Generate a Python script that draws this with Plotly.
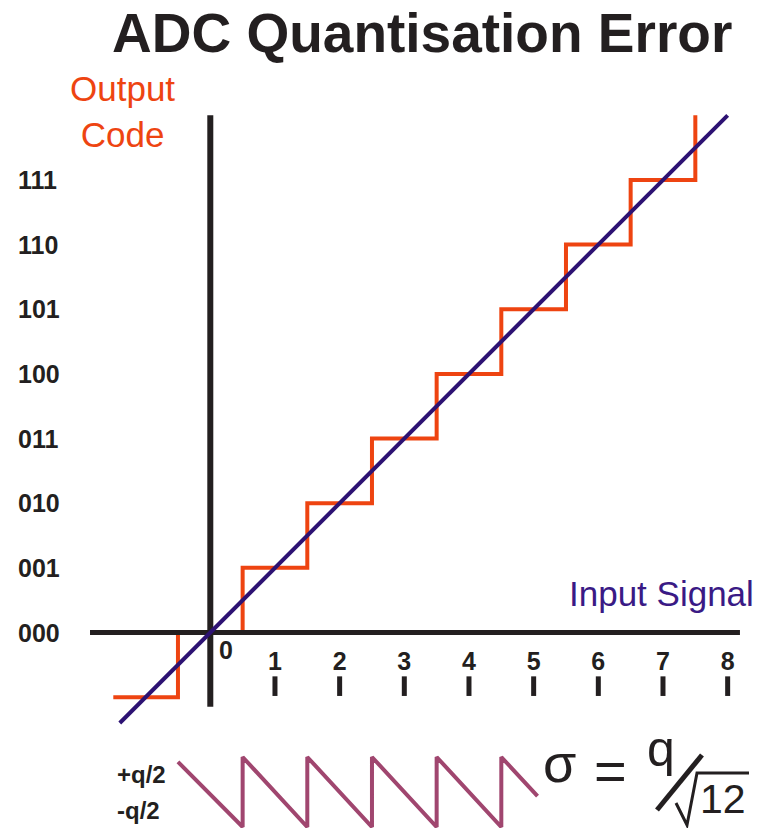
import plotly.graph_objects as go

# ---------------- data ----------------
code_labels = ["000", "001", "010", "011", "100", "101", "110", "111"]
code_values = [0, 1, 2, 3, 4, 5, 6, 7]
input_ticks = [1, 2, 3, 4, 5, 6, 7, 8]

# quantiser staircase (hv steps): input at which each code level starts, and code value
stair_x = [-1.5, -0.5, 0.5, 1.5, 2.5, 3.5, 4.5, 5.5, 6.5, 7.5, 7.5]
stair_y = [-1, 0, 1, 2, 3, 4, 5, 6, 7, 8, 8]

# ideal transfer line
ideal_x = [-1.4, 8.0]
ideal_y = [-1.4, 8.0]

# quantisation error sawtooth (in units of q)
err_x = [-0.5, 0.5, 0.5, 1.5, 1.5, 2.5, 2.5, 3.5, 3.5, 4.5, 4.5, 5.06]
err_y = [0.43, -0.5, 0.5, -0.5, 0.5, -0.5, 0.5, -0.5, 0.5, -0.5, 0.5, -0.06]

# drawn axis extents (data units)
input_axis_x = [-1.86, 8.19]
code_axis_y = [-1.15, 8.0]

W, H = 764, 828
ORANGE = "#EE4411"
PURPLE = "#2D1273"
MAUVE = "#A0466F"
BLACK = "#231F20"
FONT = "Liberation Sans, Arial, sans-serif"

def px(x):
    return x / W

def py(y):
    return 1 - y / H

fig = go.Figure()

# staircase
fig.add_trace(go.Scatter(x=stair_x, y=stair_y, mode="lines", line=dict(color=ORANGE, width=4, shape="hv"),
                         hoverinfo="skip", showlegend=False))
# axis lines (drawn over the staircase, under the ideal line)
fig.add_trace(go.Scatter(x=input_axis_x, y=[0, 0], mode="lines", line=dict(color=BLACK, width=5),
                         hoverinfo="skip", showlegend=False))
fig.add_trace(go.Scatter(x=[0, 0], y=code_axis_y, mode="lines", line=dict(color=BLACK, width=6),
                         hoverinfo="skip", showlegend=False))
# ideal line
fig.add_trace(go.Scatter(x=ideal_x, y=ideal_y, mode="lines", line=dict(color=PURPLE, width=4),
                         hoverinfo="skip", showlegend=False))
# tick marks below the input axis
fig.add_trace(go.Scatter(x=input_ticks, y=[-0.83] * len(input_ticks), mode="markers",
                         marker=dict(symbol="line-ns", size=14, line=dict(color=BLACK, width=5)),
                         hoverinfo="skip", showlegend=False))
# tick labels
fig.add_trace(go.Scatter(x=input_ticks, y=[-0.49] * len(input_ticks), mode="text",
                         text=["<b>%d</b>" % v for v in input_ticks],
                         textfont=dict(family=FONT, size=25, color=BLACK),
                         hoverinfo="skip", showlegend=False))
# sawtooth on its own y-axis
fig.add_trace(go.Scatter(x=err_x, y=err_y, yaxis="y2", mode="lines", line=dict(color=MAUVE, width=4),
                         hoverinfo="skip", showlegend=False))

annotations = []
# code labels
for lab, v in zip(code_labels, code_values):
    annotations.append(dict(x=-3.0, y=v, xref="x", yref="y", text="<b>%s</b>" % lab, showarrow=False,
                            xanchor="left", yanchor="middle",
                            font=dict(family=FONT, size=25, color=BLACK)))
# zero label
annotations.append(dict(x=px(226), y=py(650), xref="paper", yref="paper", text="<b>0</b>", showarrow=False,
                        xanchor="center", yanchor="middle", font=dict(family=FONT, size=25, color=BLACK)))
# title
annotations.append(dict(x=px(422), y=py(33), xref="paper", yref="paper", text="<b>ADC Quantisation Error</b>",
                        showarrow=False, xanchor="center", yanchor="middle",
                        font=dict(family=FONT, size=55, color=BLACK)))
# axis titles
annotations.append(dict(x=px(123), y=py(111), xref="paper", yref="paper", text="Output<br>Code",
                        showarrow=False, xanchor="center", yanchor="middle", align="center",
                        font=dict(family=FONT, size=35, color=ORANGE)))
annotations.append(dict(x=px(756), y=py(593), xref="paper", yref="paper", text="Input Signal",
                        showarrow=False, xanchor="right", yanchor="middle",
                        font=dict(family=FONT, size=35, color="#3A1A85")))
# q/2 labels
annotations.append(dict(x=px(115), y=py(774), xref="paper", yref="paper", text="<b>+q/2</b>",
                        showarrow=False, xanchor="left", yanchor="middle",
                        font=dict(family=FONT, size=24, color=BLACK)))
annotations.append(dict(x=px(115), y=py(810), xref="paper", yref="paper", text="<b>-q/2</b>",
                        showarrow=False, xanchor="left", yanchor="middle",
                        font=dict(family=FONT, size=24, color=BLACK)))
# formula sigma = q / sqrt(12)
annotations.append(dict(x=px(559), y=py(763), xref="paper", yref="paper", text="σ",
                        showarrow=False, xanchor="center", yanchor="middle",
                        font=dict(family=FONT, size=54, color=BLACK)))
annotations.append(dict(x=px(610), y=py(770), xref="paper", yref="paper", text="=",
                        showarrow=False, xanchor="center", yanchor="middle",
                        font=dict(family=FONT, size=56, color=BLACK)))
annotations.append(dict(x=px(661), y=py(749), xref="paper", yref="paper", text="q",
                        showarrow=False, xanchor="center", yanchor="middle",
                        font=dict(family=FONT, size=50, color=BLACK)))
annotations.append(dict(x=px(723), y=py(799), xref="paper", yref="paper", text="12",
                        showarrow=False, xanchor="center", yanchor="middle",
                        font=dict(family=FONT, size=41, color=BLACK)))
fig.add_shape(type="line", xref="paper", yref="paper", x0=px(657), y0=py(810), x1=px(702), y1=py(755),
              line=dict(color=BLACK, width=5))
fig.add_shape(type="path", xref="paper", yref="paper",
              path="M %f,%f L %f,%f L %f,%f L %f,%f" % (px(676), py(803), px(687), py(825),
                                                          px(697), py(773), px(749), py(773)),
              line=dict(color=BLACK, width=3))

fig.update_layout(
    width=W, height=H,
    margin=dict(l=0, r=0, t=0, b=0),
    paper_bgcolor="white", plot_bgcolor="white",
    showlegend=False,
    xaxis=dict(range=[-210.3 / 64.67, (W - 210.3) / 64.67], visible=False, fixedrange=True),
    yaxis=dict(range=[-(H - 632.5) / 64.65, 632.5 / 64.65], visible=False, fixedrange=True),
    yaxis2=dict(range=[-(H - 792) / 70.0, 792 / 70.0], overlaying="y", visible=False, fixedrange=True),
    annotations=annotations,
)

fig.write_html("out.html", config={"displayModeBar": False},
               post_script="document.body.style.margin='0px';document.body.style.overflow='hidden';")
